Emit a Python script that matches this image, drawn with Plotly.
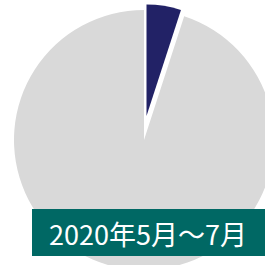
import plotly.graph_objects as go

# Data
labels = ["対象", "その他"]
values = [5, 95]
title_text = "2020年5月～7月"

W = H = 280
navy = "#222266"
gray = "#D9D9D9"
teal = "#006864"

def px_dom(cx, cy, r):
    x = [(cx - r) / W, (cx + r) / W]
    y = [(H - (cy + r)) / H, (H - (cy - r)) / H]
    return dict(x=x, y=y)

fig = go.Figure()
# Base gray pie (first slice left blank)
fig.add_trace(go.Pie(
    labels=labels, values=values, sort=False, direction="clockwise",
    marker=dict(colors=["rgba(0,0,0,0)", gray], line=dict(width=0)),
    textinfo="none", hoverinfo="none", showlegend=False,
    domain=px_dom(144, 140, 130),
))
# Pulled-out navy slice
fig.add_trace(go.Pie(
    labels=labels, values=values, sort=False, direction="clockwise",
    marker=dict(colors=[navy, "rgba(0,0,0,0)"], line=dict(width=0)),
    textinfo="none", hoverinfo="none", showlegend=False,
    domain=px_dom(146.5, 116, 111.5),
))

fig.add_shape(type="rect", xref="paper", yref="paper",
              x0=32 / W, x1=1, y0=(H - 256) / H, y1=(H - 209) / H,
              fillcolor=teal, line=dict(width=0), layer="above")
fig.add_annotation(text=title_text, xref="paper", yref="paper",
                   x=148 / W, y=(H - 233) / H, showarrow=False,
                   xanchor="center", yanchor="middle",
                   font=dict(family="Noto Sans CJK JP", size=27, color="white"))

fig.update_layout(width=W, height=H, margin=dict(l=0, r=0, t=0, b=0),
                  paper_bgcolor="white", plot_bgcolor="white")

fig.write_html("out.html", config={"displayModeBar": False},
               post_script="document.body.style.margin='0';document.body.style.overflow='hidden';document.documentElement.style.overflow='hidden';")
